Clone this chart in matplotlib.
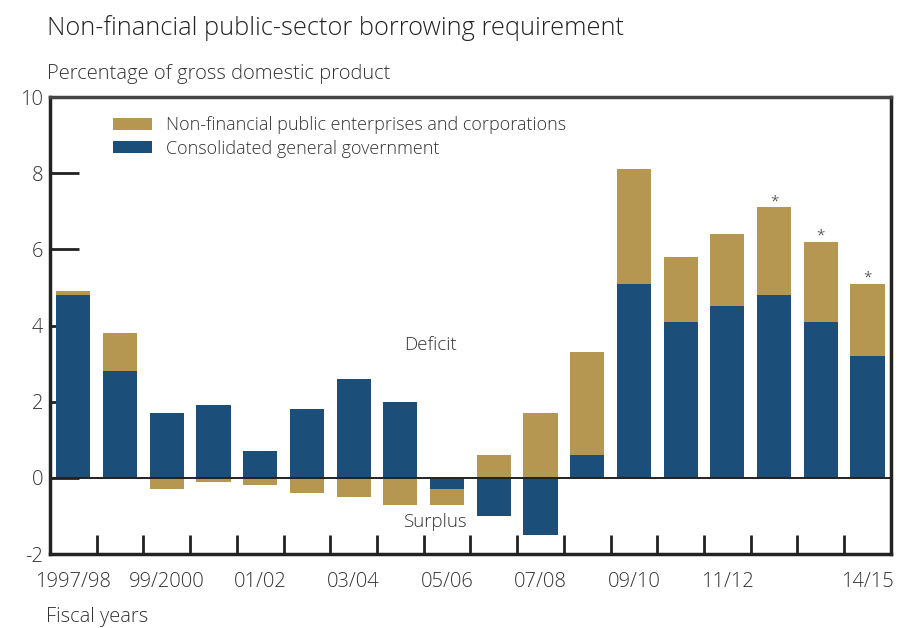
import matplotlib
matplotlib.use("Agg")
import matplotlib.pyplot as plt
import numpy as np

plt.rcParams['font.family'] = ['Open Sans', 'DejaVu Sans']
plt.rcParams['font.weight'] = 'light'

years = ["1997/98", "98/99", "99/2000", "00/01", "01/02", "02/03", "03/04", "04/05",
         "05/06", "06/07", "07/08", "08/09", "09/10", "10/11", "11/12", "12/13",
         "13/14", "14/15"]
shown_labels = {"1997/98", "99/2000", "01/02", "03/04", "05/06", "07/08",
                "09/10", "11/12", "14/15"}
general_gov = [4.8, 2.8, 1.7, 1.9, 0.7, 1.8, 2.6, 2.0, -0.3, -1.0, -1.5, 0.6,
               5.1, 4.1, 4.5, 4.8, 4.1, 3.2]
enterprises = [0.1, 1.0, -0.3, -0.1, -0.2, -0.4, -0.5, -0.7, -0.4, 0.6, 1.7, 2.7,
               3.0, 1.7, 1.9, 2.3, 2.1, 1.9]
projected = ["12/13", "13/14", "14/15"]

BLUE = "#1B4F79"
TAN = "#B69752"
TEXT = "#333333"

gg = np.array(general_gov)
ent = np.array(enterprises)
x = np.arange(len(years))

fig = plt.figure(figsize=(8.99, 6.28), dpi=100)
ax = fig.add_axes([0.0556, 0.1178, 0.9354, 0.7277])

# stack each component on its own side of zero
gg_base = np.zeros_like(gg)
ent_base = np.where(np.sign(ent) == np.sign(gg), gg, 0.0)
width = 0.73
ax.bar(x, gg, width, bottom=gg_base, color=BLUE, label="Consolidated general government", zorder=2)
ax.bar(x, ent, width, bottom=ent_base, color=TAN,
       label="Non-financial public enterprises and corporations", zorder=2)

for name in projected:
    i = years.index(name)
    top = gg[i] + ent[i]
    ax.text(i, top + 0.05, "*", ha="center", va="baseline", fontsize=11, color=TEXT)

ax.axhline(0, color="#222222", lw=1.4, zorder=3)

ax.set_xlim(-0.5, len(years) - 0.5)
ax.set_ylim(-2, 10)

ax.set_yticks([-2, 0, 2, 4, 6, 8, 10])
ax.set_yticklabels(["-2", "0", "2", "4", "6", "8", "10"])
ax.tick_params(axis="y", direction="in", length=21, width=2, color="#222222",
               labelsize=14.5, labelcolor=TEXT, pad=5)

ax.set_xticks(np.arange(0.5, len(years) - 1, 1.0))
ax.set_xticklabels([])
ax.tick_params(axis="x", direction="in", length=14, width=2, color="#222222")
ax.set_xticks(x, minor=True)
ax.set_xticklabels([y if y in shown_labels else "" for y in years], minor=True)
ax.tick_params(axis="x", which="minor", length=0, labelsize=14.5, labelcolor=TEXT, pad=13)

for side in ["left", "bottom", "right", "top"]:
    ax.spines[side].set_color("#222222")
    ax.spines[side].set_linewidth(2.5)
ax.spines["top"].set_color("#444444")

ax.text(7.65, 3.5, "Deficit", ha="center", va="center", fontsize=13.5, color=TEXT)
ax.text(7.75, -1.17, "Surplus", ha="center", va="center", fontsize=13.5, color=TEXT)

handles, labels = ax.get_legend_handles_labels()
leg = ax.legend(handles[::-1], labels[::-1], loc="upper left", bbox_to_anchor=(0.075, 0.958),
                frameon=False, fontsize=13, handlelength=2.15, handleheight=0.64,
                labelspacing=0.3, handletextpad=0.78, borderaxespad=0, borderpad=0)
for t in leg.get_texts():
    t.set_color(TEXT)

fig.text(0.052, 0.955, "Non-financial public-sector borrowing requirement",
         fontsize=18.3, color="#222222", va="center", ha="left")
fig.text(0.052, 0.882, "Percentage of gross domestic product",
         fontsize=14.5, color=TEXT, va="center", ha="left")
fig.text(0.051, 0.018, "Fiscal years", fontsize=14.5, color=TEXT, va="center", ha="left")

fig.savefig("out.png", dpi=100)
